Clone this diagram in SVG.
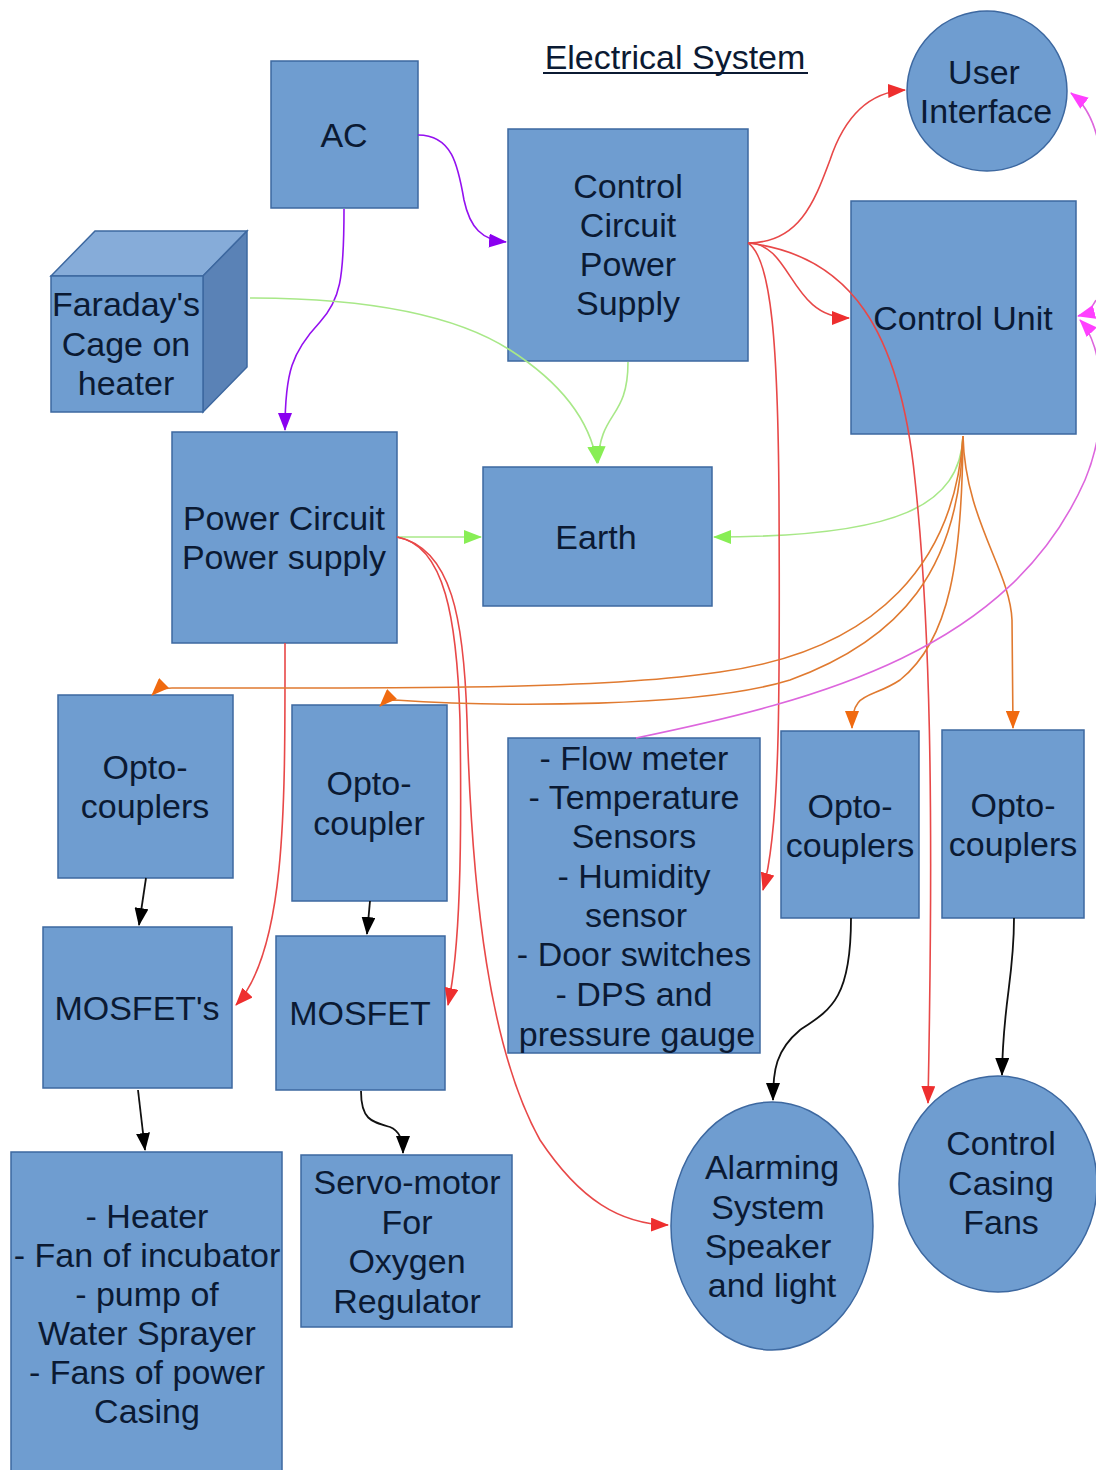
<svg xmlns="http://www.w3.org/2000/svg" width="1096" height="1470" viewBox="0 0 1096 1470">
<style>
.n{fill:#6f9dd0;stroke:#3d68a0;stroke-width:1.5}
.t{font-family:"Liberation Sans",Arial,sans-serif;font-size:34px;fill:#0b1a33;text-anchor:middle}
.c{fill:none;stroke-width:1.6}
.pu{stroke:#9410f0}
.gr{stroke:#a8e888}
.rd{stroke:#e84848}
.or{stroke:#e07a30}
.mg{stroke:#dd66dd}
.bk{stroke:#111;stroke-width:1.8}
</style>
<defs>
<marker id="apu" markerWidth="18" markerHeight="14" refX="17" refY="7" orient="auto" markerUnits="userSpaceOnUse"><path d="M0,0 L18,7 L0,14 z" fill="#8a00f0"/></marker>
<marker id="agr" markerWidth="18" markerHeight="14" refX="17" refY="7" orient="auto" markerUnits="userSpaceOnUse"><path d="M0,0 L18,7 L0,14 z" fill="#88ee55"/></marker>
<marker id="ard" markerWidth="18" markerHeight="14" refX="17" refY="7" orient="auto" markerUnits="userSpaceOnUse"><path d="M0,0 L18,7 L0,14 z" fill="#ee2e2e"/></marker>
<marker id="aor" markerWidth="18" markerHeight="14" refX="17" refY="7" orient="auto" markerUnits="userSpaceOnUse"><path d="M0,0 L18,7 L0,14 z" fill="#f06a10"/></marker>
<marker id="amg" markerWidth="18" markerHeight="14" refX="17" refY="7" orient="auto" markerUnits="userSpaceOnUse"><path d="M0,0 L18,7 L0,14 z" fill="#ff40ff"/></marker>
<marker id="abk" markerWidth="18" markerHeight="14" refX="17" refY="7" orient="auto" markerUnits="userSpaceOnUse"><path d="M0,0 L18,7 L0,14 z" fill="#000"/></marker>
</defs>
<rect width="1096" height="1470" fill="#fff"/>

<g id="title">
<text x="675" y="69" class="t" style="font-size:34px">Electrical System</text>
<line x1="543" y1="73" x2="808" y2="73" stroke="#0b1a33" stroke-width="2"/>
</g>

<g id="ac"><rect class="n" x="271" y="61" width="147" height="147"/><text class="t" x="344" y="147">AC</text></g>

<g id="ccps"><rect class="n" x="508" y="129" width="240" height="232"/>
<text class="t" x="628" y="198">Control</text><text class="t" x="628" y="237">Circuit</text><text class="t" x="628" y="276">Power</text><text class="t" x="628" y="315">Supply</text></g>

<g id="ui"><circle class="n" cx="987" cy="91" r="80"/><text class="t" x="984" y="84">User</text><text class="t" x="986" y="123">Interface</text></g>

<g id="cu"><rect class="n" x="851" y="201" width="225" height="233"/><text class="t" x="963" y="330">Control Unit</text></g>

<g id="faraday">
<path d="M51,276 L95,231 L247,231 L203,276 Z" fill="#86acd9" stroke="#3d68a0" stroke-width="1.5"/>
<path d="M203,276 L247,231 L247,367 L203,412 Z" fill="#5a82b6" stroke="#3d68a0" stroke-width="1.5"/>
<rect class="n" x="51" y="276" width="152" height="136"/>
<text class="t" x="126" y="316">Faraday's</text><text class="t" x="126" y="356">Cage on</text><text class="t" x="126" y="395">heater</text></g>

<g id="pcps"><rect class="n" x="172" y="432" width="225" height="211"/>
<text class="t" x="284" y="530">Power Circuit</text><text class="t" x="284" y="569">Power supply</text></g>

<g id="earth"><rect class="n" x="483" y="467" width="229" height="139"/><text class="t" x="596" y="549">Earth</text></g>

<g id="opto1"><rect class="n" x="58" y="695" width="175" height="183"/>
<text class="t" x="145" y="779">Opto-</text><text class="t" x="145" y="818">couplers</text></g>

<g id="opto2"><rect class="n" x="292" y="705" width="155" height="196"/>
<text class="t" x="369" y="795">Opto-</text><text class="t" x="369" y="835">coupler</text></g>

<g id="sensors"><rect class="n" x="508" y="738" width="252" height="315"/>
<text class="t" x="634" y="770">- Flow meter</text>
<text class="t" x="634" y="809">- Temperature</text>
<text class="t" x="634" y="848">Sensors</text>
<text class="t" x="634" y="888">- Humidity</text>
<text class="t" x="636" y="927">sensor</text>
<text class="t" x="634" y="966">- Door switches</text>
<text class="t" x="634" y="1006">- DPS and</text>
<text class="t" x="637" y="1046">pressure gauge</text></g>

<g id="opto3"><rect class="n" x="781" y="731" width="138" height="187"/>
<text class="t" x="850" y="818">Opto-</text><text class="t" x="850" y="857">couplers</text></g>

<g id="opto4"><rect class="n" x="942" y="730" width="142" height="188"/>
<text class="t" x="1013" y="817">Opto-</text><text class="t" x="1013" y="856">couplers</text></g>

<g id="mosfets"><rect class="n" x="43" y="927" width="189" height="161"/><text class="t" x="137" y="1020">MOSFET's</text></g>

<g id="mosfet"><rect class="n" x="276" y="936" width="169" height="154"/><text class="t" x="360" y="1025">MOSFET</text></g>

<g id="loads"><rect class="n" x="11" y="1152" width="271" height="330"/>
<text class="t" x="147" y="1228">- Heater</text>
<text class="t" x="147" y="1267">- Fan of incubator</text>
<text class="t" x="147" y="1306">- pump of</text>
<text class="t" x="147" y="1345">Water Sprayer</text>
<text class="t" x="147" y="1384">- Fans of power</text>
<text class="t" x="147" y="1423">Casing</text></g>

<g id="servo"><rect class="n" x="301" y="1155" width="211" height="172"/>
<text class="t" x="407" y="1194">Servo-motor</text><text class="t" x="407" y="1234">For</text><text class="t" x="407" y="1273">Oxygen</text><text class="t" x="407" y="1313">Regulator</text></g>

<g id="alarm"><ellipse class="n" cx="772" cy="1226" rx="101" ry="124"/>
<text class="t" x="772" y="1179">Alarming</text><text class="t" x="768" y="1219">System</text><text class="t" x="768" y="1258">Speaker</text><text class="t" x="772" y="1297">and light</text></g>

<g id="fans"><ellipse class="n" cx="998" cy="1184" rx="99" ry="108"/>
<text class="t" x="1001" y="1155">Control</text><text class="t" x="1001" y="1195">Casing</text><text class="t" x="1001" y="1234">Fans</text></g>

<g id="connectors">
<path class="c pu" d="M418,135 C452,135 458,165 464,200 C470,228 482,240 506,242" marker-end="url(#apu)"/>
<path class="c pu" d="M344,209 C344,280 340,300 320,322 C292,352 285,372 285,430" marker-end="url(#apu)"/>
<path class="c gr" d="M250,298 C380,298 460,318 510,350 C560,382 590,420 597,463" marker-end="url(#agr)"/>
<path class="c gr" d="M628,362 C628,420 600,410 598,463" marker-end="url(#agr)"/>
<path class="c gr" d="M397,537 L481,537" marker-end="url(#agr)"/>
<path class="c gr" d="M963,436 C960,505 900,537 714,537" marker-end="url(#agr)"/>
<path class="c rd" d="M748,243 C800,243 815,200 830,160 C845,115 870,92 905,90" marker-end="url(#ard)"/>
<path class="c rd" d="M748,243 C792,243 790,318 849,318" marker-end="url(#ard)"/>
<path class="c rd" d="M748,243 C850,255 900,330 915,480 C930,620 934,800 928,1103" marker-end="url(#ard)"/>
<path class="c rd" d="M748,243 C772,258 778,350 779,500 C780,700 780,830 763,890" marker-end="url(#ard)"/>
<path class="c rd" d="M397,537 C445,545 457,620 460,720 C462,850 460,950 448,1005" marker-end="url(#ard)"/>
<path class="c rd" d="M397,537 C452,548 464,620 467,720 C472,900 490,1050 540,1140 C580,1200 620,1224 668,1225" marker-end="url(#ard)"/>
<path class="c rd" d="M285,643 C285,800 287,950 236,1005" marker-end="url(#ard)"/>
<path class="c or" d="M963,436 C955,560 880,650 720,672 C600,690 400,688 172,688 C162,688 157,690 152,695" marker-end="url(#aor)"/>
<path class="c or" d="M963,436 C960,570 900,640 790,680 C700,708 500,707 395,700 C388,700 384,702 380,706" marker-end="url(#aor)"/>
<path class="c or" d="M963,436 C962,560 950,640 900,680 C870,700 852,690 852,728" marker-end="url(#aor)"/>
<path class="c or" d="M963,436 C965,520 1010,570 1012,620 L1013,728" marker-end="url(#aor)"/>
<path class="c mg" d="M636,738 C820,700 1010,650 1085,480 C1110,420 1104,345 1080,320" marker-end="url(#amg)"/>
<path class="c mg" d="M1096,300 C1092,308 1086,314 1078,316" marker-end="url(#amg)"/>
<path class="c mg" d="M1098,250 C1110,170 1100,115 1071,93" marker-end="url(#amg)"/>
<path class="c bk" d="M146,878 L139,925" marker-end="url(#abk)"/>
<path class="c bk" d="M370,901 L367,934" marker-end="url(#abk)"/>
<path class="c bk" d="M138,1090 L145,1150" marker-end="url(#abk)"/>
<path class="c bk" d="M361,1091 C361,1120 372,1122 390,1127 C400,1131 403,1140 403,1153" marker-end="url(#abk)"/>
<path class="c bk" d="M851,918 C851,1000 830,1010 800,1030 C776,1050 773,1070 773,1100" marker-end="url(#abk)"/>
<path class="c bk" d="M1014,918 C1014,980 1003,1000 1002,1075" marker-end="url(#abk)"/>
</g>
</svg>
